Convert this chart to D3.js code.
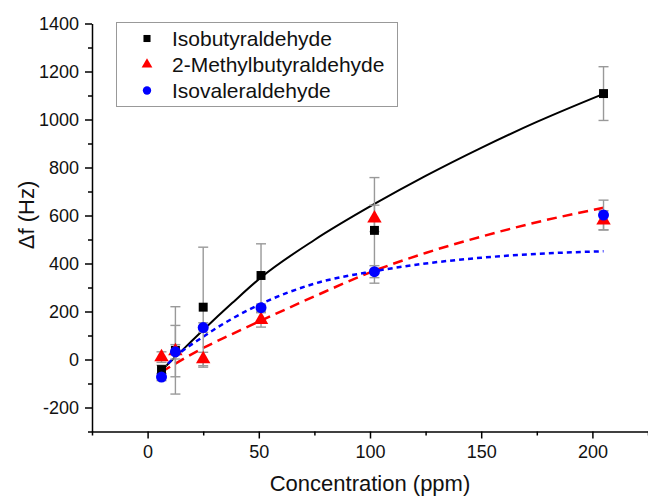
<!DOCTYPE html>
<html>
<head>
<meta charset="utf-8">
<script src="https://cdn.jsdelivr.net/npm/d3@7"></script>
<style>
  html, body { margin: 0; padding: 0; background: #fff; }
  svg { display: block; font-family: "Liberation Sans", Arial, sans-serif; }
</style>
</head>
<body>
<div id="chart"></div>
<script>
// concentrations (ppm)
const conc = [6.25, 12.5, 25, 51, 102, 205];

// measured frequency shifts (Hz) and error bar half-widths
const isobutyr = [-42, 38, 218, 350, 538, 1108];
const isobutyrErr = [18, 182, 250, 132, 220, 112];
const methylbut = [10, 35, 2, 165, 588, 580];
const methylbutErr = [22, 107, 28, 30, 55, 40];
const isoval = [-73, 32, 133, 216, 366, 602];
const isovalErr = [15, 30, 20, 15, 25, 62];

// fitted curves
const fitConc = [6.25, 12.5, 25, 38, 51, 75, 102, 125, 150, 175, 205];
const isobutyrFit = [-45, 11, 123, 235, 342, 498, 648, 765, 882, 990, 1107];
const methylbutFit = [-52, -17, 48, 106, 162, 263, 370, 444, 512, 572, 632];
const isovalFit = [-44, 12, 95, 170, 232, 316, 368, 400, 424, 440, 451];

const xMajor = [0, 50, 100, 150, 200];
const xMinor = [-25, 25, 75, 125, 175, 225];
const yMajor = [-200, 0, 200, 400, 600, 800, 1000, 1200, 1400];
const yMinor = [-300, -100, 100, 300, 500, 700, 900, 1100, 1300];

const W = 648, H = 497;

const series = [
  { name: "Isobutyraldehyde", y: isobutyr, err: isobutyrErr, fit: isobutyrFit,
    color: "#000", shape: d3.symbolSquare, size: 80, legSize: 50, dash: null },
  { name: "2-Methylbutyraldehyde", y: methylbut, err: methylbutErr, fit: methylbutFit,
    color: "#f00", shape: d3.symbolTriangle, size: 90, legSize: 50, dash: "10,6" },
  { name: "Isovaleraldehyde", y: isoval, err: isovalErr, fit: isovalFit,
    color: "#00f", shape: d3.symbolCircle, size: 95, legSize: 55, dash: "5,4" }
];

const svg = d3.select("#chart").append("svg")
  .attr("width", W).attr("height", H);

svg.append("rect").attr("width", W).attr("height", H).attr("fill", "#fff");

const x = d3.scaleLinear().domain([-25, 225]).range([92, 648]);
const y = d3.scaleLinear().domain([-300, 1400]).range([431.5, 23.5]);

const plain = d => String(d);

// axes
svg.append("g").attr("transform", `translate(0,${y(-300)})`)
  .call(d3.axisBottom(x).tickValues(xMajor).tickFormat(plain)
    .tickSize(7).tickPadding(7).tickSizeOuter(0));
svg.append("g").attr("transform", `translate(0,${y(-300)})`)
  .call(d3.axisBottom(x).tickValues(xMinor).tickSize(4).tickFormat("").tickSizeOuter(0))
  .select(".domain").remove();

svg.append("g").attr("transform", `translate(${x(-25)},0)`)
  .call(d3.axisLeft(y).tickValues(yMajor).tickFormat(plain)
    .tickSize(7).tickPadding(6).tickSizeOuter(0));
svg.append("g").attr("transform", `translate(${x(-25)},0)`)
  .call(d3.axisLeft(y).tickValues(yMinor).tickSize(4).tickFormat("").tickSizeOuter(0))
  .select(".domain").remove();

svg.selectAll(".domain, .tick line").attr("stroke", "#000").attr("stroke-width", 1.5);
svg.selectAll(".tick text").attr("font-size", 18).attr("fill", "#111")
  .attr("font-family", "Liberation Sans, Arial, sans-serif");

// axis titles
svg.append("text")
  .attr("x", 370).attr("y", 491)
  .attr("text-anchor", "middle")
  .attr("font-size", 22).attr("fill", "#111")
  .text("Concentration (ppm)");

svg.append("text")
  .attr("transform", "translate(26,215) rotate(-90)")
  .attr("dy", "0.35em")
  .attr("text-anchor", "middle")
  .attr("font-size", 22).attr("fill", "#111")
  .text("Δf (Hz)");

// fitted curves
const line = d3.line()
  .x((d, i) => x(fitConc[i]))
  .y(d => y(d))
  .curve(d3.curveMonotoneX);

series.forEach(s => {
  svg.append("path")
    .attr("d", line(s.fit))
    .attr("fill", "none")
    .attr("stroke", s.color)
    .attr("stroke-width", s.dash ? 2.5 : 2)
    .attr("stroke-dasharray", s.dash);
});

// error bars
series.forEach(s => {
  const g = svg.append("g").attr("stroke", "#999").attr("stroke-width", 1.4);
  conc.forEach((c, i) => {
    const cx = x(c), top = y(s.y[i] + s.err[i]), bot = y(s.y[i] - s.err[i]);
    g.append("line").attr("x1", cx).attr("x2", cx).attr("y1", top).attr("y2", bot);
    g.append("line").attr("x1", cx - 5).attr("x2", cx + 5).attr("y1", top).attr("y2", top);
    g.append("line").attr("x1", cx - 5).attr("x2", cx + 5).attr("y1", bot).attr("y2", bot);
  });
});

// markers
series.forEach(s => {
  svg.append("g").selectAll("path")
    .data(conc)
    .join("path")
    .attr("transform", (c, i) => `translate(${x(c)},${y(s.y[i])})`)
    .attr("d", d3.symbol().type(s.shape).size(s.size))
    .attr("fill", s.color);
});

// legend
const leg = svg.append("g");
leg.append("rect")
  .attr("x", 116.5).attr("y", 22.5).attr("width", 281).attr("height", 84)
  .attr("fill", "#fff").attr("stroke", "#999").attr("stroke-width", 1);

series.forEach((s, i) => {
  const ry = 38.5 + i * 26;
  leg.append("path")
    .attr("transform", `translate(147,${ry})`)
    .attr("d", d3.symbol().type(s.shape).size(s.legSize))
    .attr("fill", s.color);
  leg.append("text")
    .attr("x", 172).attr("y", ry).attr("dy", "0.36em")
    .attr("font-size", 21).attr("fill", "#111")
    .text(s.name);
});
</script>
</body>
</html>
